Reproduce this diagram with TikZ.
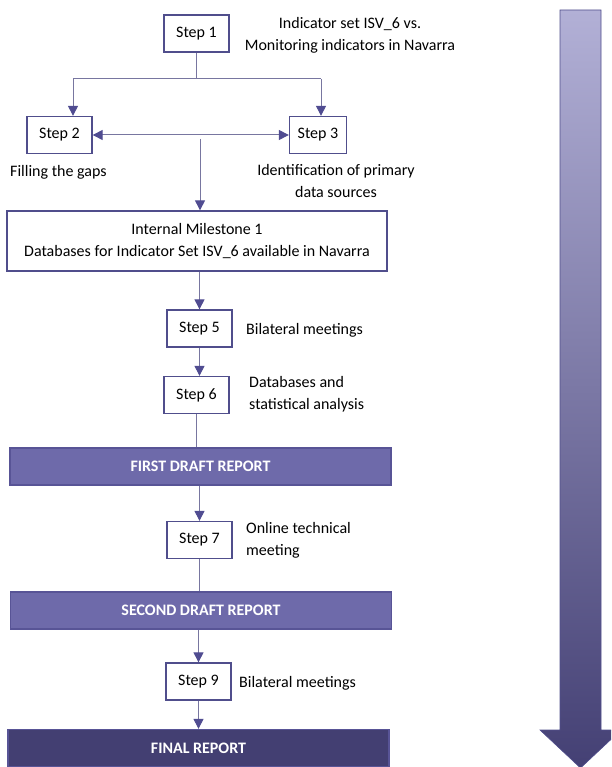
\documentclass[tikz,border=0pt]{standalone}
\usepackage{fontspec}
\setmainfont{Carlito}
\usepackage{xcolor}
\usepackage{tikz}
\usetikzlibrary{arrows.meta, positioning}

\definecolor{boxline}{RGB}{80,78,140}
\definecolor{connline}{RGB}{120,118,160}
\definecolor{tipfill}{RGB}{80,76,145}
\definecolor{reportfill}{RGB}{110,106,170}
\definecolor{reportline}{RGB}{88,84,150}
\definecolor{finalfill}{RGB}{67,63,114}
\definecolor{flowtop}{RGB}{178,176,214}
\definecolor{flowmid}{RGB}{110,106,170}
\definecolor{flowbot}{RGB}{68,64,116}

\begin{document}
\begin{tikzpicture}[x=1pt, y=-1pt, >={Triangle[length=10pt, width=10pt, color=tipfill]}]
		\tikzstyle{stepbox} = [draw=boxline, line width=1.3pt, fill=white, minimum width=65pt, minimum height=37pt, inner sep=0pt, font=\fontsize{16}{18}\selectfont]
		\tikzstyle{milestone} = [stepbox, minimum width=380pt, minimum height=60pt, align=center, font=\fontsize{16}{22.5}\selectfont]
		\tikzstyle{report} = [draw=reportline, line width=1.3pt, fill=reportfill, minimum width=381pt, minimum height=37pt, inner sep=0pt, text=white, font=\fontsize{16}{18}\selectfont\bfseries]
		\tikzstyle{note} = [draw=none, inner sep=0pt, font=\fontsize{16}{22}\selectfont]
		\tikzstyle{conn} = [draw=connline, line width=1pt]
		
		\useasboundingbox (0,0) rectangle (611,767);
		\clip (0,0) rectangle (611,767);
		
		% big flow arrow on the right
		\shade[top color=flowtop, middle color=flowmid, bottom color=flowbot, draw=boxline, line width=0.6pt]
		(560,10) -- (601,10) -- (601,730) -- (621,730) -- (580.5,768) -- (540,730) -- (560,730) -- cycle;
		
		\node[stepbox] 	at (196.5, 33.5)	(s1) 	{Step 1};
		\node[note, align=center] at (350, 35) (l1) {Indicator set ISV\_6 vs.\\Monitoring indicators in Navarra};
		\node[stepbox] 	at (59.5, 135)	(s2) 	{Step 2};
		\node[stepbox, minimum width=57pt] 	at (318, 135)	(s3) 	{Step 3};
		\node[note, anchor=west] at (10, 172) (l2) {Filling the gaps};
		\node[note, align=center] at (336, 181.5) (l3) {Identification of primary\\data sources};
		
		\coordinate (c2) at (73, 79);
		\coordinate (c3) at (321, 79);
		\coordinate (fork) at (200, 139);
		
		\node[milestone] at (197, 241) (m1) {Internal Milestone 1\\Databases for Indicator Set ISV\_6 available in Navarra};
		
		\node[stepbox] 	at (199.5, 328.5)	(s5) 	{Step 5};
		\node[note, anchor=west] at (246, 330) (l5) {Bilateral meetings};
		\node[stepbox] 	at (196.5, 395)	(s6) 	{Step 6};
		\node[note, anchor=west, align=left] at (249, 394) (l6) {Databases and\\statistical analysis};
		
		\node[report] at (200.5, 466.5) (r1) {FIRST DRAFT REPORT};
		
		\node[stepbox] 	at (199.5, 540)	(s7) 	{Step 7};
		\node[note, anchor=west, align=left] at (246, 540) (l7) {Online technical\\meeting};
		
		\node[report] at (201, 610.5) (r2) {SECOND DRAFT REPORT};
		
		\node[stepbox] 	at (198.5, 681.5)	(s9) 	{Step 9};
		\node[note, anchor=west] at (239, 683) (l9) {Bilateral meetings};
		
		\node[report, fill=finalfill] at (198.5, 748) (r3) {FINAL REPORT};
		
		\draw[conn] (s1.south) -- (s1.south |- c2);
		\draw[conn] (c2) -- (c3);
		\draw[conn, ->] (c2) -- (c2 |- s2.north);
		\draw[conn, ->] (c3) -- (c3 |- s3.north);
		\draw[conn, <->] (s2) -- (s3);
		\draw[conn, ->] (fork) -- (fork |- m1.north);
		\draw[conn, ->] (s5.north |- m1.south) -- (s5.north);
		\draw[conn, ->] (s5.south) -- (s5.south |- s6.north);
		\draw[conn] (s6.south) -- (s6.south |- r1.north);
		\draw[conn, ->] (s7.north |- r1.south) -- (s7.north);
		\draw[conn] (s7.south) -- (s7.south |- r2.north);
		\draw[conn, ->] (s9.north |- r2.south) -- (s9.north);
		\draw[conn, ->] (s9.south) -- (s9.south |- r3.north);
	\end{tikzpicture}
\end{document}
